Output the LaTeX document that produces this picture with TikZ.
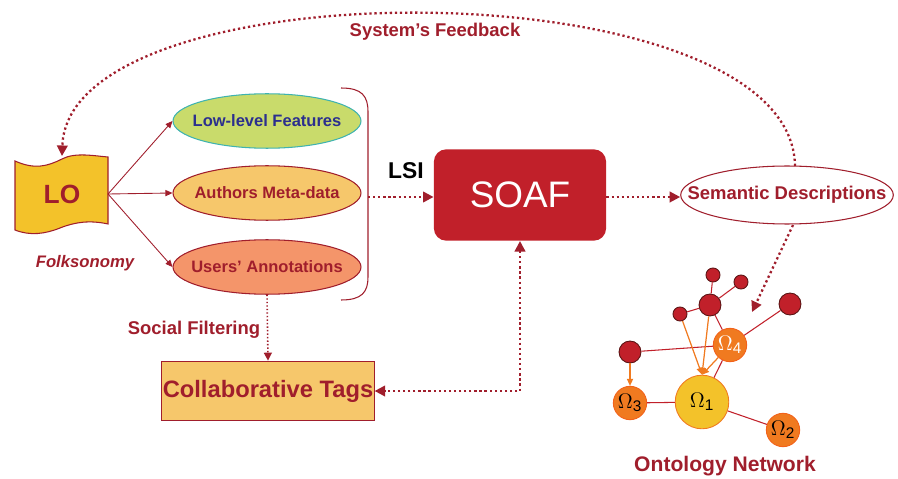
\documentclass[tikz,border=0pt]{standalone}
\usepackage{fontspec}
\setmainfont{Liberation Sans}
\usetikzlibrary{arrows.meta,shapes.geometric}

\definecolor{wine}{HTML}{A01E2C}
\definecolor{soafred}{HTML}{C1202A}
\definecolor{navy}{HTML}{2B2F8E}
\definecolor{lime}{HTML}{C9DB6B}
\definecolor{teal}{HTML}{3FB3B0}
\definecolor{sand}{HTML}{F6C76B}
\definecolor{salmon}{HTML}{F4956A}
\definecolor{gold}{HTML}{F3C22A}
\definecolor{amber}{HTML}{F07A20}
\definecolor{blood}{HTML}{5A1414}

% text that does not widen its ellipse
\newcommand{\slimtext}[1]{\makebox[0pt]{#1}}
% ontology label
\newcommand{\om}[1]{$\Omega$\textsubscript{#1}}

\tikzset{
  feat/.style={ellipse, draw=wine, line width=0.6pt, minimum width=107pt, minimum height=31pt, inner sep=0pt, font=\bfseries\fontsize{9.4}{10}\selectfont, text=wine},
  dots/.style={wine, line width=1.3pt, dash pattern=on 1.3pt off 1.6pt, -{Triangle[length=6pt,width=6pt]}},
  thin/.style={wine, line width=0.5pt, -{Triangle[length=4pt,width=3.5pt]}},
  lbl/.style={text=wine, font=\bfseries\fontsize{10.5}{11}\selectfont},
  onto/.style={circle, draw=amber!80!red, fill=amber, line width=0.5pt, inner sep=0pt, minimum size=19pt, font=\fontsize{12.5}{13}\selectfont},
  bead/.style={circle, draw=blood, fill=soafred, line width=0.5pt, inner sep=0pt, minimum size=12.5pt},
  seed/.style={bead, minimum size=8pt},
  link/.style={soafred, line width=0.6pt},
  pull/.style={amber, line width=0.7pt, -{Triangle[length=4pt,width=3.5pt]}}
}

\begin{document}
\begin{tikzpicture}[x=0.02cm, y=-0.02cm]
  % \draw[help lines, step=50] (0,0) grid (898,479);
  \useasboundingbox (0,0) rectangle (898,479);

  % learning object flag
  \draw[wine, fill=gold, line width=0.6pt] (15,161) .. controls (35,170) and (48,166) .. (62,159)
    .. controls (75,152) and (95,156) .. (108,157) -- (108,224)
    .. controls (90,220) and (75,222) .. (60,228) .. controls (45,234) and (30,236) .. (15,230) -- cycle;
  \node (lo) at (62,194) [minimum width=52pt, minimum height=38pt, text=wine, font=\bfseries\fontsize{15}{16}\selectfont] {LO};
  \node (folk) at (85,263) [lbl, font=\bfseries\itshape\fontsize{9.5}{10}\selectfont] {Folksonomy};

  \node (low) at (267,121) [feat, fill=lime, draw=teal, text=navy] {\slimtext{Low-level Features}};
  \node (meta) at (267,193) [feat, fill=sand] {\slimtext{Authors Meta-data}};
  \node (users) at (267,267) [feat, fill=salmon] {\slimtext{Users' Annotations}};

  \draw[thin] (lo.east) -- (low.west);
  \draw[thin] (lo.east) -- (meta.west);
  \draw[thin] (lo.east) -- (users.west);

  % bracket round the three sources
  \draw[wine, line width=0.6pt] (341,88) .. controls (362,88) and (368,96) .. (368,112) -- (368,277)
    .. controls (368,292) and (362,300) .. (341,300);
  \coordinate (brace) at (368,197);

  \node (soaf) at (520,195) [rectangle, rounded corners=7pt, fill=soafred, minimum width=98pt, minimum height=52pt, text=white, font=\fontsize{21}{22}\selectfont] {SOAF};
  \node (lsi) at (406,171) [font=\bfseries\fontsize{13}{14}\selectfont] {LSI};
  \draw[dots] (brace) -- (soaf.west |- brace);

  \node (sem) at (787,195) [ellipse, draw=wine, fill=white, line width=0.6pt, minimum width=121pt, minimum height=33pt, inner sep=0pt, text=wine, font=\bfseries\fontsize{10.5}{11}\selectfont] {\slimtext{Semantic Descriptions}};
  \draw[dots] (soaf.east |- brace) -- (sem.west |- brace);

  % feedback loop over the top
  \node (feedback) at (435,32) [lbl] {System's Feedback};
  \draw[dots] (795,166) .. controls (792,-34) and (68,-36) .. (62,156);

  \node (tags) at (268,391) [rectangle, draw=wine, fill=sand, line width=0.6pt, inner sep=0.5pt, minimum width=120pt, minimum height=34pt, text=wine, font=\bfseries\fontsize{13.5}{14}\selectfont] {Collaborative Tags};
  \node (social) at (194,330) [lbl] {Social Filtering};
  \draw[wine, line width=0.9pt, dash pattern=on 0.8pt off 1.2pt, -{Triangle[length=4.5pt,width=4.5pt]}] (users.south) -- (tags.north);
  \draw[dots, {Triangle[length=6pt,width=6pt]}-{Triangle[length=6pt,width=6pt]}] (soaf.south) -- (520,391) -- (tags.east);

  % ontology network
  \node (o1) at (702,402) [onto, fill=gold, draw=amber, minimum size=30.5pt] {\om{1}};
  \node (o2) at (783,430) [onto] {\om{2}};
  \node (o3) at (630,403) [onto] {\om{3}};
  \node (o4) at (730,345) [onto, text=white] {\om{4}};

  \node (a) at (630,352) [bead] {};
  \node (b) at (710,305) [bead] {};
  \node (c) at (790,304) [bead] {};
  \node (d) at (680,314) [seed] {};
  \node (e) at (713,275) [seed] {};
  \node (f) at (741,282) [seed] {};

  \draw[link] (a) -- (o4);
  \draw[link] (d) -- (b);
  \draw[link] (b) -- (e);
  \draw[link] (b) -- (f);
  \draw[link] (b) -- (o4);
  \draw[link] (o4) -- (c);
  \draw[link] (o4) -- (o1);
  \draw[link] (o3) -- (o1);
  \draw[link] (o1) -- (o2);

  \draw[pull] (d) -- (o1.north);
  \draw[pull] (b) -- (o1.north);
  \draw[pull] (o4) -- (o1.north);
  \draw[pull] (a) -- (o3.north);

  \draw[dots] (793,225) -- (752,312);
  \node (net) at (725,466) [lbl, font=\bfseries\fontsize{12}{13}\selectfont] {Ontology Network};
\end{tikzpicture}
\end{document}
